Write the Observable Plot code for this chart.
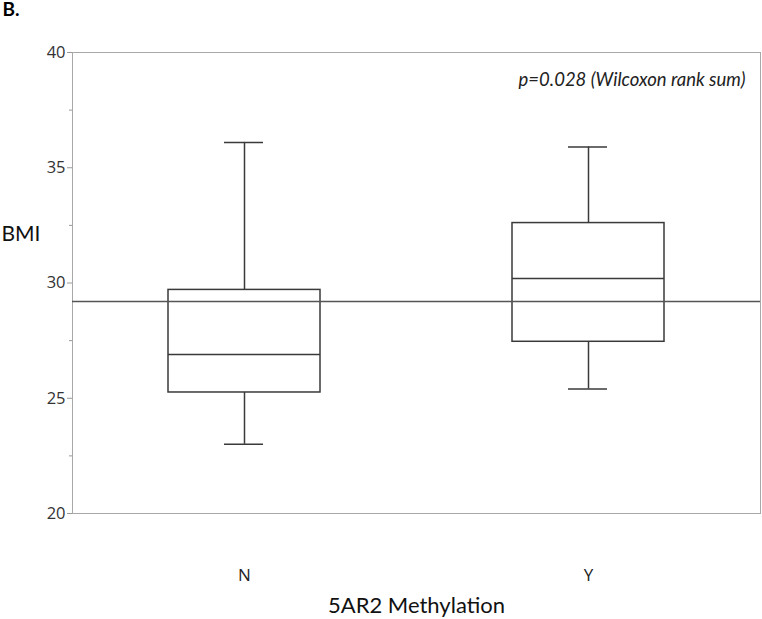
<!DOCTYPE html>
<html><head><meta charset="utf-8">
<script src="https://cdn.jsdelivr.net/npm/d3@7"></script>
<script src="https://cdn.jsdelivr.net/npm/@observablehq/plot@0.6"></script>
<style>body{margin:0;background:#fff} svg{display:block}</style>
</head><body><div id="chart"></div>
<script>
const groups = ["N", "Y"];
const whiskerLow = [23.0, 25.4];
const q1 = [25.25, 27.45];
const median = [26.9, 30.2];
const q3 = [29.7, 32.6];
const whiskerHigh = [36.1, 35.9];
const refLine = [29.2];
const majorTicks = [20, 25, 30, 35, 40];
const minorTicks = [22.5, 27.5, 32.5, 37.5];
const panelLabel = "B.";
const yTitle = "BMI";
const xTitle = "5AR2 Methylation";
const pText = "p=0.028 (Wilcoxon rank sum)";

const data = groups.map((g, i) => ({group: g, lo: whiskerLow[i], q1: q1[i], med: median[i], q3: q3[i], hi: whiskerHigh[i]}));
const boxStroke = "#3a3a3a";
const titleFont = "Lato";
const tickFont = "Open Sans";

const chart = Plot.plot({
  width: 762, height: 619,
  marginLeft: 72, marginRight: 2, marginTop: 52, marginBottom: 106,
  style: {fontFamily: tickFont, background: "white", color: "#333"},
  x: {type: "band", domain: groups, paddingInner: 0.558, paddingOuter: 0.279, axis: null},
  y: {domain: [20, 40], axis: null},
  marks: [
    Plot.frame({stroke: "#a8a8a8"}),
    Plot.axisY(majorTicks, {tickSize: 5, tickPadding: 2, fontSize: 16.5, fontFamily: tickFont, stroke: "#999", fill: "#333", label: null}),
    Plot.axisY(minorTicks, {tickSize: 3, tickFormat: () => "", stroke: "#999", label: null}),
    Plot.axisX(groups, {tickSize: 0, tickPadding: 55, fontSize: 17, fontFamily: tickFont, fill: "#222", label: null}),
    Plot.ruleX(data, {x: "group", y1: "q3", y2: "hi", stroke: boxStroke, strokeWidth: 1.5}),
    Plot.ruleX(data, {x: "group", y1: "lo", y2: "q1", stroke: boxStroke, strokeWidth: 1.5}),
    Plot.tickY(data, {x: "group", y: "hi", insetLeft: 56, insetRight: 57, stroke: boxStroke, strokeWidth: 1.5}),
    Plot.tickY(data, {x: "group", y: "lo", insetLeft: 56, insetRight: 57, stroke: boxStroke, strokeWidth: 1.5}),
    Plot.barY(data, {x: "group", y1: "q1", y2: "q3", fill: "none", stroke: boxStroke, strokeWidth: 1.5}),
    Plot.tickY(data, {x: "group", y: "med", stroke: boxStroke, strokeWidth: 1.5}),
    Plot.ruleY(refLine, {stroke: "#555", strokeWidth: 1.5}),
    Plot.text([pText], {frameAnchor: "top-right", dx: -15, dy: 28, textAnchor: "end", lineAnchor: "middle", fontSize: 18.5, fontStyle: "italic", fontFamily: titleFont, fill: "#222"}),
    Plot.text([yTitle], {frameAnchor: "left", dx: -71, dy: -49, textAnchor: "start", lineAnchor: "middle", fontSize: 21, fontFamily: titleFont, fill: "#111"}),
    Plot.text([xTitle], {frameAnchor: "bottom", dy: 92, lineAnchor: "middle", fontSize: 22, fontFamily: titleFont, fill: "#111"}),
    Plot.text([panelLabel], {frameAnchor: "top-left", dx: -70, dy: -43, textAnchor: "start", lineAnchor: "middle", fontSize: 19, fontWeight: "bold", fontFamily: titleFont, fill: "#000"})
  ]
});
document.getElementById("chart").append(chart);
</script>
</body></html>
